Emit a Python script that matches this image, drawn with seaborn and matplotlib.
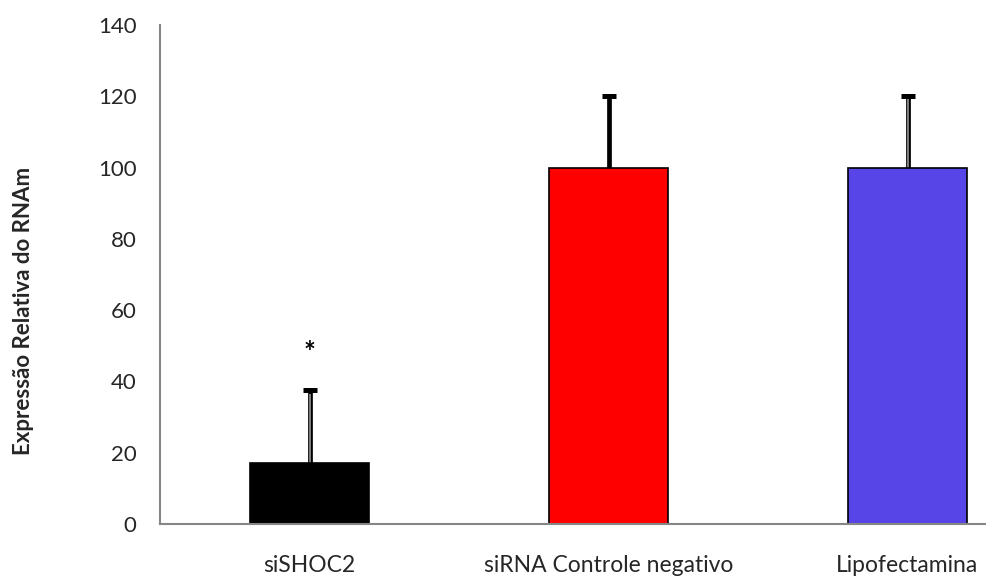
import matplotlib
matplotlib.use("Agg")
import matplotlib.pyplot as plt
import seaborn as sns
import pandas as pd

# Data
categories = ["siSHOC2", "siRNA Controle negativo", "Lipofectamina"]
values = [17, 100, 100]
errors_up = [20.5, 20, 20]
bar_colors = ["#000000", "#FF0000", "#5845E8"]
y_ticks = [0, 20, 40, 60, 80, 100, 120, 140]
star_label = "*"
star_y = 48

sns.set_theme(style="white")
plt.rcParams["font.family"] = ["Lato", "DejaVu Sans"]

df = pd.DataFrame({"grupo": categories, "valor": values})

fig = plt.figure(figsize=(9.86, 5.79), dpi=100)
ax = fig.add_axes([160 / 986, 1 - 524 / 579, 1 - 160 / 986, (524 - 25) / 579])

sns.barplot(data=df, x="grupo", y="valor", hue="grupo", palette=bar_colors,
            order=categories, hue_order=categories, legend=False, saturation=1,
            width=0.4, edgecolor="black", linewidth=1.2, ax=ax, errorbar=None,
            zorder=2)

# upper-only error bars: stem from bar top plus a cap at the upper end
xpos = list(range(len(categories)))
tops = [v + e for v, e in zip(values, errors_up)]
ax.vlines(xpos, values, tops, color="black", linewidth=3.4, zorder=1)
ax.plot(xpos, tops, linestyle="none", marker="_", markersize=10.5,
        markeredgewidth=3.6, color="black", zorder=1.6)
for i in (0, 2):
    ax.vlines(i, values[i], tops[i] - 0.9, color="#808080", linewidth=1.4, zorder=1.5)

ax.text(0, star_y, star_label, ha="center", va="center", fontsize=20,
        fontweight="bold", color="black")

ax.set_yticks(y_ticks)
ax.set_yticklabels([str(t) for t in y_ticks], fontsize=16)

# category boundary ticks on x axis
ax.set_xticks([-0.5, 0.5, 1.5, 2.5])
ax.set_xticklabels([])
ax.set_xticks(xpos, minor=True)
ax.set_xticklabels(categories, minor=True, fontsize=16.5)
ax.tick_params(axis="x", which="minor", length=0, pad=22)
ax.tick_params(axis="x", which="major", length=7, width=1.5, color="#868686", direction="out")
ax.tick_params(axis="y", length=8, width=1.5, color="#868686", direction="out", pad=9)

ax.set_ylim(0, 140)
ax.set_xlim(-0.5, -0.5 + (986 - 160) / 299)

for side in ("top", "right"):
    ax.spines[side].set_visible(False)
for side in ("left", "bottom"):
    ax.spines[side].set_color("#868686")
    ax.spines[side].set_linewidth(1.5)

ax.set_xlabel("")
ax.set_ylabel("Expressão Relativa do RNAm", fontsize=16, fontweight="bold")
ax.yaxis.set_label_coords(-0.153, 0.427)

fig.savefig("out.png", dpi=100)
